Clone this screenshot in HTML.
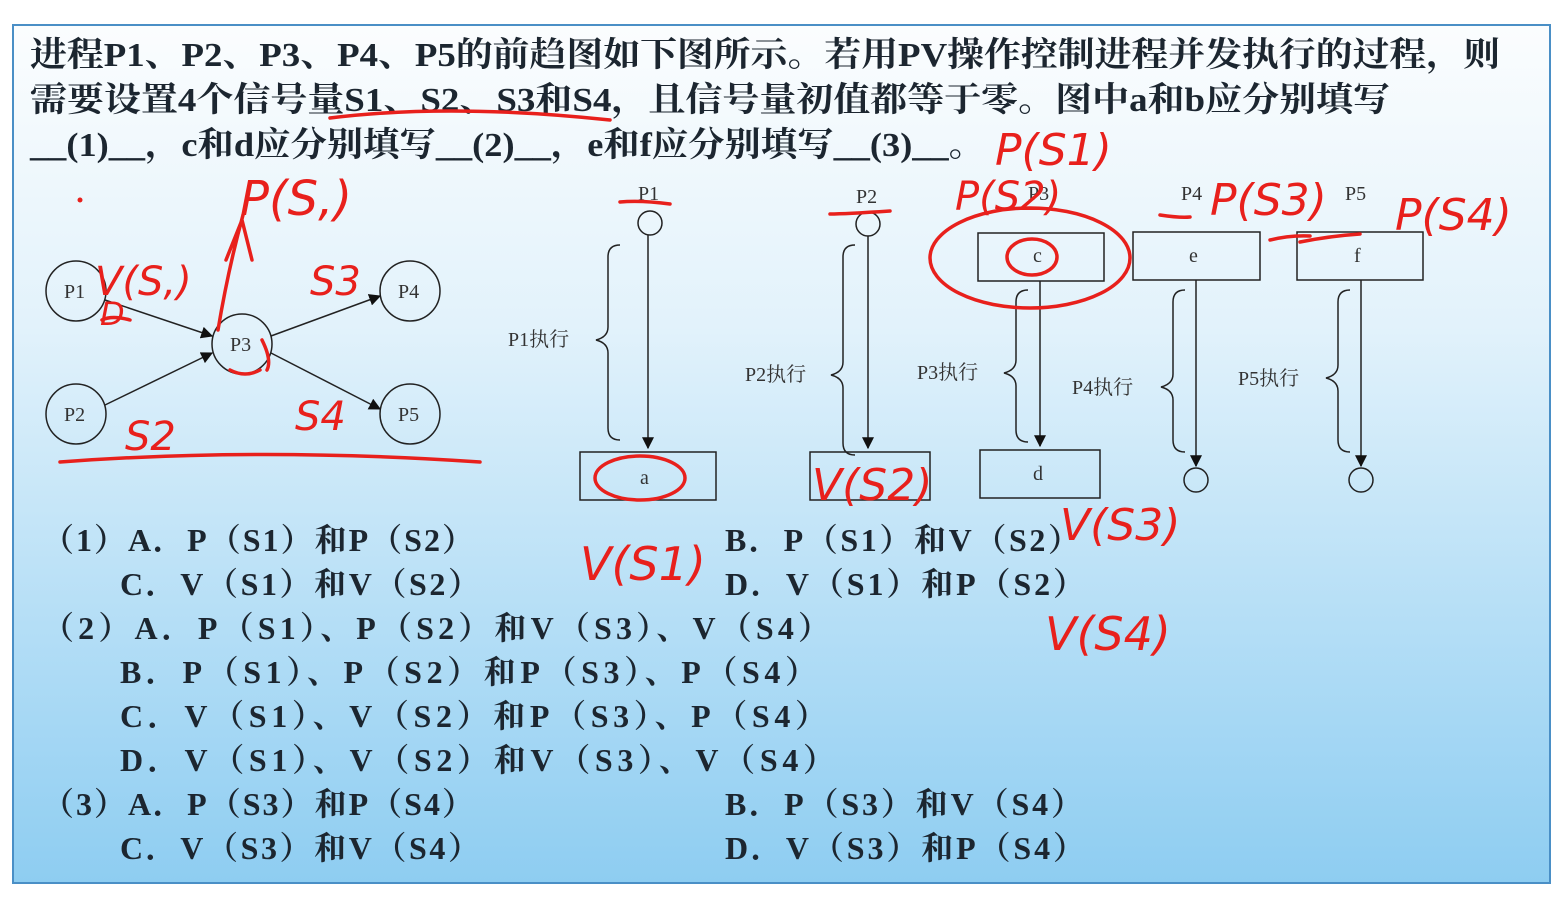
<!DOCTYPE html>
<html><head><meta charset="utf-8"><style>
html,body{margin:0;padding:0;background:#fff;}
svg{display:block;}
.t{font-family:"Liberation Serif","Noto Serif CJK SC",serif;font-weight:bold;fill:#1c2630;}
.s{font-family:"Liberation Serif","Noto Serif CJK SC",serif;fill:#333;font-size:20px;}
.r{fill:none;stroke:#e8201c;stroke-width:3.5;stroke-linecap:round;stroke-linejoin:round;}
.rt{font-family:"DejaVu Sans",sans-serif;fill:#e8201c;font-style:italic;}
</style></head><body>
<svg width="1564" height="898" viewBox="0 0 1564 898" xmlns="http://www.w3.org/2000/svg">
<defs>
<linearGradient id="bg" x1="0" y1="0" x2="0" y2="1">
<stop offset="0" stop-color="#fbfdfe"/><stop offset="0.35" stop-color="#e2f2fb"/><stop offset="0.7" stop-color="#b4def6"/><stop offset="1" stop-color="#8ecdf1"/></linearGradient>
<marker id="ar" viewBox="0 0 10 10" refX="9" refY="5" markerWidth="8" markerHeight="8" orient="auto"><path d="M0,0L10,5L0,10z" fill="#111"/></marker>
</defs>
<rect x="13" y="25" width="1537" height="858" fill="url(#bg)" stroke="#4a8fc6" stroke-width="2"/>
<text class="t" font-size="34" x="30" y="66" textLength="1470" lengthAdjust="spacingAndGlyphs">进程P1、P2、P3、P4、P5的前趋图如下图所示。若用PV操作控制进程并发执行的过程，则</text>
<text class="t" font-size="34" x="30" y="111" textLength="1360" lengthAdjust="spacingAndGlyphs">需要设置4个信号量S1、S2、S3和S4，且信号量初值都等于零。图中a和b应分别填写</text>
<text class="t" font-size="34" x="30" y="156" textLength="955" lengthAdjust="spacingAndGlyphs">__(1)__，c和d应分别填写__(2)__，e和f应分别填写__(3)__。</text>
<!-- left graph -->
<g fill="none" stroke="#222" stroke-width="1.5">
<circle cx="76" cy="291" r="30"/><circle cx="76" cy="414" r="30"/><circle cx="242" cy="344" r="30"/><circle cx="410" cy="291" r="30"/><circle cx="410" cy="414" r="30"/>
<line x1="105" y1="300" x2="212" y2="336" marker-end="url(#ar)"/>
<line x1="105" y1="405" x2="212" y2="353" marker-end="url(#ar)"/>
<line x1="271" y1="336" x2="380" y2="296" marker-end="url(#ar)"/>
<line x1="271" y1="353" x2="380" y2="409" marker-end="url(#ar)"/>
</g>
<g class="s"><text x="64" y="298">P1</text><text x="64" y="421">P2</text><text x="230" y="351">P3</text><text x="398" y="298">P4</text><text x="398" y="421">P5</text></g>
<!-- right diagram -->
<g fill="none" stroke="#222" stroke-width="1.5">
<circle cx="650" cy="223" r="12"/><line x1="648" y1="235" x2="648" y2="448" marker-end="url(#ar)"/>
<rect x="580" y="452" width="136" height="48"/>
<path d="M620,245 q-12,0 -12,12 v70 q0,10 -12,13 q12,3 12,13 v75 q0,12 12,12"/>
<circle cx="868" cy="224" r="12"/><line x1="868" y1="236" x2="868" y2="448" marker-end="url(#ar)"/>
<rect x="810" y="452" width="120" height="48"/>
<path d="M855,245 q-12,0 -12,12 v105 q0,10 -12,13 q12,3 12,13 v55 q0,12 12,12"/>
<rect x="978" y="233" width="126" height="48"/>
<line x1="1040" y1="281" x2="1040" y2="446" marker-end="url(#ar)"/>
<rect x="980" y="450" width="120" height="48"/>
<path d="M1028,290 q-12,0 -12,12 v58 q0,10 -12,13 q12,3 12,13 v44 q0,12 12,12"/>
<rect x="1133" y="232" width="127" height="48"/>
<line x1="1196" y1="280" x2="1196" y2="466" marker-end="url(#ar)"/>
<circle cx="1196" cy="480" r="12"/>
<path d="M1185,290 q-12,0 -12,12 v72 q0,10 -12,13 q12,3 12,13 v40 q0,12 12,12"/>
<rect x="1297" y="232" width="126" height="48"/>
<line x1="1361" y1="280" x2="1361" y2="466" marker-end="url(#ar)"/>
<circle cx="1361" cy="480" r="12"/>
<path d="M1350,290 q-12,0 -12,12 v63 q0,10 -12,13 q12,3 12,13 v49 q0,12 12,12"/>
</g>
<g class="s">
<text x="638" y="200">P1</text><text x="856" y="203">P2</text><text x="1028" y="200">P3</text><text x="1181" y="200">P4</text><text x="1345" y="200">P5</text>
<text x="640" y="484">a</text><text x="1033" y="262">c</text><text x="1033" y="480">d</text><text x="1189" y="262">e</text><text x="1354" y="262">f</text>
<text x="508" y="346">P1执行</text><text x="745" y="381">P2执行</text><text x="917" y="379">P3执行</text><text x="1072" y="394">P4执行</text><text x="1238" y="385">P5执行</text>
</g>
<!-- options -->
<g class="t" font-size="32">
<text x="42" y="551" textLength="432" lengthAdjust="spacing">（1）A．P（S1）和P（S2）</text><text x="725" y="551" textLength="355" lengthAdjust="spacing">B．P（S1）和V（S2）</text>
<text x="120" y="595" textLength="360" lengthAdjust="spacing">C．V（S1）和V（S2）</text><text x="725" y="595" textLength="360" lengthAdjust="spacing">D．V（S1）和P（S2）</text>
<text x="42" y="639" textLength="788" lengthAdjust="spacing">（2）A．P（S1）、P（S2）和V（S3）、V（S4）</text>
<text x="120" y="683" textLength="697" lengthAdjust="spacing">B．P（S1）、P（S2）和P（S3）、P（S4）</text>
<text x="120" y="727" textLength="707" lengthAdjust="spacing">C．V（S1）、V（S2）和P（S3）、P（S4）</text>
<text x="120" y="771" textLength="715" lengthAdjust="spacing">D．V（S1）、V（S2）和V（S3）、V（S4）</text>
<text x="42" y="815" textLength="432" lengthAdjust="spacing">（3）A．P（S3）和P（S4）</text><text x="725" y="815" textLength="358" lengthAdjust="spacing">B．P（S3）和V（S4）</text>
<text x="120" y="859" textLength="360" lengthAdjust="spacing">C．V（S3）和V（S4）</text><text x="725" y="859" textLength="360" lengthAdjust="spacing">D．V（S3）和P（S4）</text>
</g>
<!-- red annotations -->
<g class="r">
<path d="M330,118 q120,-15 280,2"/>
<path d="M60,462 q200,-15 420,0"/>
<path d="M218,330 q10,-60 25,-115 M226,260 l16,-40 l10,40"/>
<path d="M102,320 q10,-5 28,0"/>
<path d="M230,370 q15,8 30,0 M262,340 q10,20 5,30"/>
<ellipse cx="1030" cy="258" rx="100" ry="50"/>
<ellipse cx="1032" cy="257" rx="25" ry="18"/>
<ellipse cx="640" cy="478" rx="45" ry="22"/>
<path d="M1270,240 q20,-5 40,-4 M1300,242 q30,-6 60,-8 M1160,215 q20,3 30,2 M830,214 q15,0 60,-3 M620,202 q20,-2 50,2"/>
</g>
<g class="rt">
<text x="240" y="215" font-size="48">P(S,)</text>
<text x="95" y="295" font-size="40">V(S,)</text>
<text x="100" y="325" font-size="32">D</text>
<text x="310" y="295" font-size="40">S3</text>
<text x="295" y="430" font-size="40">S4</text>
<text x="125" y="450" font-size="40">S2</text>
<text x="995" y="165" font-size="44">P(S1)</text>
<text x="955" y="210" font-size="40">P(S2)</text>
<text x="1210" y="215" font-size="44">P(S3)</text>
<text x="1395" y="230" font-size="44">P(S4)</text>
<text x="580" y="580" font-size="46">V(S1)</text>
<text x="812" y="500" font-size="44">V(S2)</text>
<text x="1060" y="540" font-size="44">V(S3)</text>
<text x="1045" y="650" font-size="46">V(S4)</text>
</g>
<circle cx="80" cy="200" r="2.5" fill="#e8201c"/>
</svg>
</body></html>
